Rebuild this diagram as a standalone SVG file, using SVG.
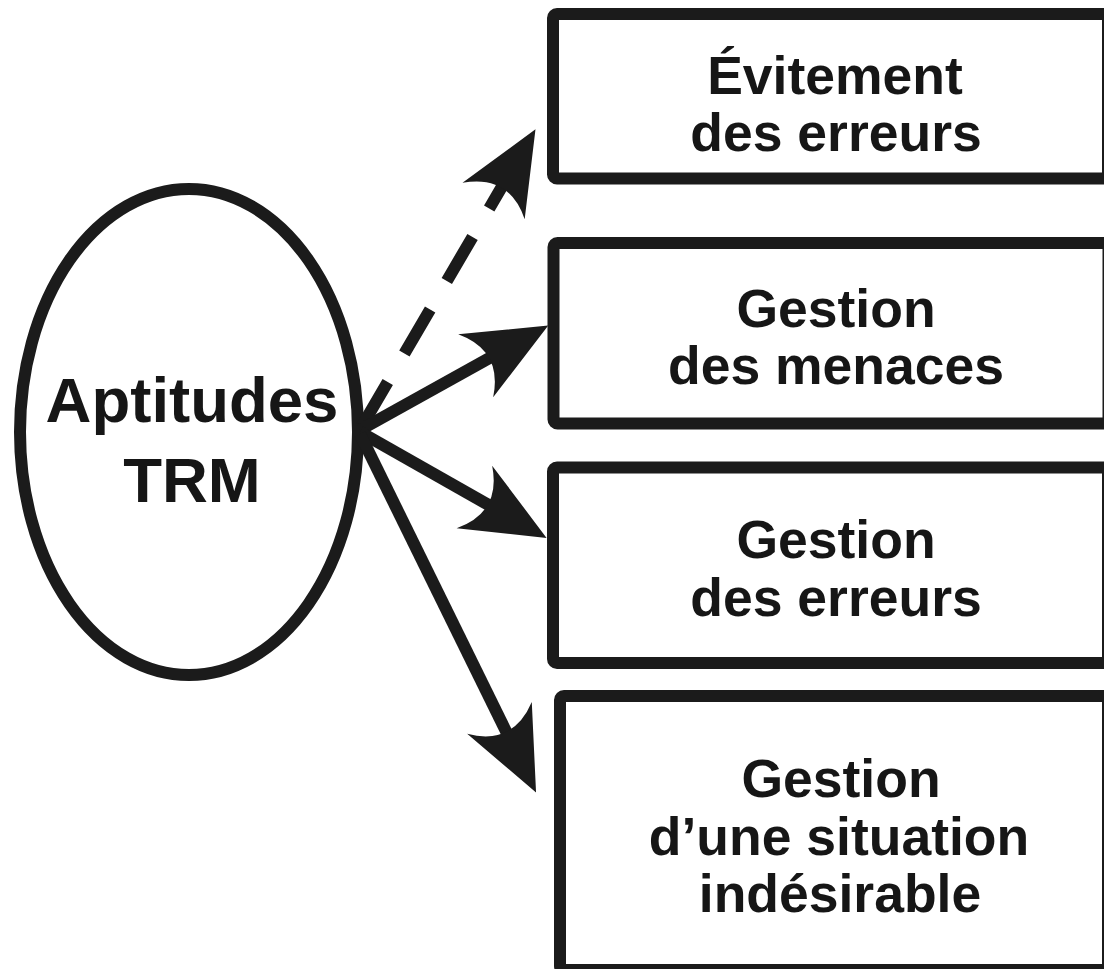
<svg xmlns="http://www.w3.org/2000/svg" width="1104" height="969" viewBox="0 0 1104 969">
  <style>
    .shape { fill: #ffffff; stroke: #1b1b1b; stroke-width: 12; }
    .label { font-family: "Liberation Sans", Arial, sans-serif; font-weight: bold; fill: #161616; text-anchor: middle; }
    .box-label { font-size: 53.5px; }
    .hub-label { font-size: 63.5px; }
    .link { fill: none; stroke: #1b1b1b; stroke-width: 12; stroke-linecap: butt; marker-end: url(#head); }
    .dashed { stroke-dasharray: 51 33; }
  </style>
  <defs>
    <!-- Arrowhead with a concave back; its tip sits 60 units past the end of the line -->
    <marker id="head" markerUnits="userSpaceOnUse" orient="auto" refX="0" refY="0" markerWidth="200" markerHeight="200" overflow="visible">
      <path d="M60,0 L-23,-36 Q8,0 -23,36 Z" fill="#1b1b1b"/>
    </marker>
  </defs>

  <rect width="1104" height="969" fill="#ffffff"/>

  <!-- Central node -->
  <g id="node-aptitudes">
    <ellipse class="shape" cx="189" cy="432" rx="169" ry="243" stroke-width="13"/>
    <text class="label hub-label" x="192" y="422">Aptitudes</text>
    <text class="label hub-label" x="192" y="502">TRM</text>
  </g>

  <!-- Outcome boxes -->
  <g id="node-evitement">
    <rect class="shape" x="553" y="14" width="555" height="164.5" rx="4"/>
    <text class="label box-label" x="835" y="94">Évitement</text>
    <text class="label box-label" x="836" y="151">des erreurs</text>
  </g>

  <g id="node-menaces">
    <rect class="shape" x="553.5" y="243" width="555" height="180.5" rx="4"/>
    <text class="label box-label" x="836" y="327">Gestion</text>
    <text class="label box-label" x="836" y="384">des menaces</text>
  </g>

  <g id="node-erreurs">
    <rect class="shape" x="553" y="467.5" width="555" height="195.5" rx="4"/>
    <text class="label box-label" x="836" y="558">Gestion</text>
    <text class="label box-label" x="836" y="616">des erreurs</text>
  </g>

  <g id="node-situation">
    <rect class="shape" x="560" y="696" width="548" height="274" rx="4"/>
    <text class="label box-label" x="841" y="797">Gestion</text>
    <text class="label box-label" x="839" y="855">d’une situation</text>
    <text class="label box-label" x="840" y="912">indésirable</text>
  </g>

  <!-- Connectors -->
  <g id="connectors">
    <line class="link dashed" x1="362" y1="426" x2="505.2" y2="181.1"/>
    <line class="link" x1="360" y1="430" x2="495.8" y2="354.6"/>
    <line class="link" x1="360" y1="432" x2="494.4" y2="508.3"/>
    <line class="link" x1="360" y1="434" x2="509.6" y2="738.6"/>
  </g>
</svg>
